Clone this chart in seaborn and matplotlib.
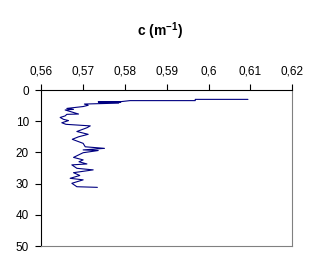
import matplotlib
matplotlib.use("Agg")
import matplotlib.pyplot as plt
import seaborn as sns
import pandas as pd
from matplotlib.ticker import FuncFormatter

# attenuation coefficient c (m^-1) vs depth (m)
c_values = [0.6094, 0.5968, 0.5968, 0.5812, 0.5792, 0.5736, 0.5790, 0.5738, 0.5785,
            0.5703, 0.5712, 0.5700, 0.5661, 0.5677, 0.5657, 0.5689, 0.5661, 0.5657,
            0.5645, 0.5653, 0.5665, 0.5649, 0.5659, 0.5717, 0.5709, 0.5685, 0.5712,
            0.5689, 0.5674, 0.5700, 0.5705, 0.5751, 0.5700, 0.5736, 0.5700, 0.5677,
            0.5700, 0.5690, 0.5709, 0.5673, 0.5685, 0.5724, 0.5677, 0.5692, 0.5669,
            0.5700, 0.5673, 0.5685, 0.5734]
depth_values = [3.0, 3.0, 3.4, 3.4, 3.7, 3.8, 3.9, 4.0, 4.2,
                4.5, 4.9, 5.3, 5.9, 6.2, 6.4, 7.7, 7.8, 8.3,
                8.8, 9.4, 9.8, 10.5, 11.0, 11.5, 12.1, 13.3, 14.2,
                15.0, 15.8, 17.1, 18.2, 18.7, 19.2, 19.4, 20.1, 21.6,
                22.4, 23.0, 23.7, 24.0, 25.1, 25.6, 26.5, 27.4, 28.3,
                28.8, 29.9, 31.0, 31.2]

x_ticks = [0.56, 0.57, 0.58, 0.59, 0.60, 0.61, 0.62]
y_ticks = [0, 10, 20, 30, 40, 50]

df = pd.DataFrame({"c": c_values, "depth": depth_values})

sns.set_style("white")
plt.rcParams["font.family"] = ["Liberation Sans", "DejaVu Sans"]
plt.rcParams["mathtext.fontset"] = "custom"
plt.rcParams["mathtext.rm"] = "Liberation Sans"
plt.rcParams["mathtext.bf"] = "Liberation Sans:bold"
plt.rcParams["text.color"] = "black"
plt.rcParams["xtick.color"] = "black"
plt.rcParams["ytick.color"] = "black"

fig = plt.figure(figsize=(3.21, 2.73), dpi=100)
ax = fig.add_axes([0.1287, 0.0989, 0.7819, 0.5714])

sns.lineplot(data=df, x="c", y="depth", sort=False, estimator=None,
             color="#000080", linewidth=0.8, ax=ax)

ax.set_xlim(0.56, 0.62)
ax.set_ylim(50, 0)
ax.set_xticks(x_ticks)
ax.set_yticks(y_ticks)
ax.xaxis.tick_top()
ax.xaxis.set_major_formatter(FuncFormatter(lambda v, p: ("%g" % round(v, 2)).replace(".", ",")))
ax.tick_params(axis="x", direction="out", length=4, width=0.8, color="black",
               labelsize=8.5, pad=5, top=True, bottom=False, labelcolor="black")
ax.tick_params(axis="y", direction="out", length=4, width=0.8, color="black",
               labelsize=8.5, pad=5, left=True, labelcolor="black")
ax.set_xlabel("")
ax.set_ylabel("")

for side in ["left", "top"]:
    ax.spines[side].set_color("black")
    ax.spines[side].set_linewidth(0.8)
for side in ["right", "bottom"]:
    ax.spines[side].set_color("#808080")
    ax.spines[side].set_linewidth(0.8)

fig.text(0.497, 0.885, "c (m$^{\\mathbf{-1}}$)", ha="center", va="center",
         fontsize=10, fontweight="bold", color="black")

fig.savefig("out.png", dpi=100, facecolor="white")
